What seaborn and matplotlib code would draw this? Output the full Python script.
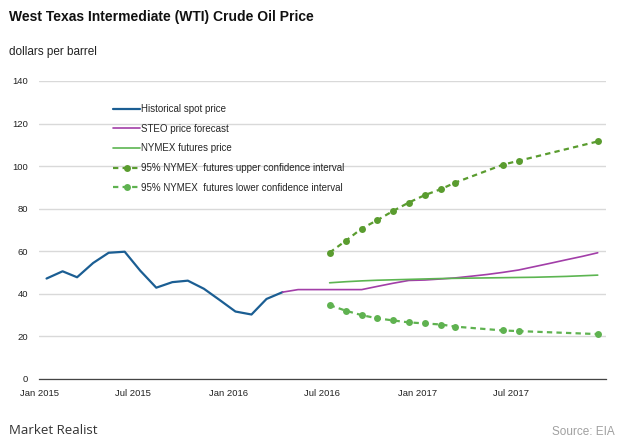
import numpy as np
import pandas as pd
import matplotlib
matplotlib.use("Agg")
import matplotlib.pyplot as plt
import matplotlib.dates as mdates
import seaborn as sns

# monthly data, plotted at mid-month
hist_dates = pd.date_range("2015-01-01", "2016-04-01", freq="MS") + pd.Timedelta(days=14)
hist_price = [47.2, 50.6, 47.8, 54.5, 59.3, 59.8, 50.9, 42.9, 45.5, 46.2, 42.4, 37.2,
              31.7, 30.3, 37.6, 40.8]

steo_dates = pd.date_range("2016-04-01", "2017-12-01", freq="MS") + pd.Timedelta(days=14)
steo_price = [40.8, 42.0, 42.0, 42.0, 42.0, 42.0, 43.5, 45.0, 46.3, 46.5, 47.0, 47.5,
              48.3, 49.1, 50.1, 51.2, 52.8, 54.4, 56.0, 57.6, 59.3]

fut_dates = pd.date_range("2016-07-01", "2017-12-01", freq="MS") + pd.Timedelta(days=14)
fut_price = [45.2, 45.7, 46.1, 46.4, 46.6, 46.8, 47.0, 47.2, 47.3, 47.4, 47.5, 47.6,
             47.7, 47.8, 48.0, 48.2, 48.5, 48.8]

ci_dates = pd.to_datetime(["2016-07-15", "2016-08-15", "2016-09-15", "2016-10-15",
                           "2016-11-15", "2016-12-15", "2017-01-15", "2017-02-15",
                           "2017-03-15", "2017-06-15", "2017-07-15", "2017-12-15"])
ci_upper = [59.4, 64.9, 70.7, 74.6, 79.0, 82.9, 86.4, 89.2, 92.3, 100.7, 102.5, 111.6]
ci_lower = [34.7, 32.1, 30.0, 28.5, 27.5, 26.6, 26.1, 25.6, 24.6, 22.8, 22.5, 21.1]

sns.set_style("white")
plt.rcParams["font.family"] = ["Liberation Sans", "DejaVu Sans"]

fig = plt.figure(figsize=(6.2, 4.43), dpi=100)
ax = fig.add_axes([39.3 / 620, 1 - 379 / 443, (606 - 39.3) / 620, (379 - 81) / 443])

dash = (0, (2.4, 1.9))
sns.lineplot(x=hist_dates, y=hist_price, ax=ax, color="#1b5e93", linewidth=1.6,
             label="Historical spot price")
sns.lineplot(x=steo_dates, y=steo_price, ax=ax, color="#a23ea8", linewidth=1.2,
             label="STEO price forecast")
sns.lineplot(x=fut_dates, y=fut_price, ax=ax, color="#5cb551", linewidth=1.2,
             label="NYMEX futures price")
sns.lineplot(x=ci_dates, y=ci_upper, ax=ax, color="#5a9c2f", linewidth=1.6,
             linestyle=dash, marker="o", markersize=5, markeredgewidth=0,
             label="95% NYMEX  futures upper confidence interval")
sns.lineplot(x=ci_dates, y=ci_lower, ax=ax, color="#5fb250", linewidth=1.6,
             linestyle=dash, marker="o", markersize=5, markeredgewidth=0,
             label="95% NYMEX  futures lower confidence interval")

ax.set_xlim(pd.Timestamp("2015-01-01"), pd.Timestamp("2017-12-31"))
ax.set_ylim(0, 140)
ax.set_yticks(range(0, 141, 20))
ax.set_xlabel("")
ax.set_ylabel("")

ax.xaxis.set_major_locator(mdates.MonthLocator(bymonth=[1, 7]))
ax.xaxis.set_minor_locator(mdates.MonthLocator())
ax.xaxis.set_major_formatter(mdates.DateFormatter("%b %Y"))

ax.yaxis.grid(True, color="#d9d9d9", linewidth=1)
ax.xaxis.grid(False)
for s in ["top", "right", "left"]:
    ax.spines[s].set_visible(False)
ax.spines["bottom"].set_color("#444444")
ax.spines["bottom"].set_linewidth(0.9)

ax.tick_params(axis="y", length=0, pad=8, labelsize=6.8, labelcolor="#222222")
ax.tick_params(axis="x", which="major", direction="inout", length=8, width=0.8,
               color="#444444", pad=3, labelsize=6.8, labelcolor="#222222")
ax.tick_params(axis="x", which="minor", direction="inout", length=4, width=0.7,
               color="#444444")

ax.legend(loc="upper left", bbox_to_anchor=(113 / 620, 1 - 104 / 443),
          bbox_transform=fig.transFigure, frameon=False, fontsize=7,
          handlelength=2.8, handletextpad=0.1, labelspacing=1.0,
          borderpad=0, borderaxespad=0, numpoints=1)

fig.text(9 / 620, 1 - 17 / 443, "West Texas Intermediate (WTI) Crude Oil Price",
         fontsize=10, fontweight="bold", color="#111111", va="center", ha="left")
fig.text(9 / 620, 1 - 52 / 443, "dollars per barrel", fontsize=8.5,
         color="#222222", va="center", ha="left")
fig.text(9 / 620, 1 - 430 / 443, "Market Realist", fontsize=9.5,
         color="#333333", va="center", ha="left", family=["Open Sans", "DejaVu Sans"])
fig.text(615 / 620, 1 - 432 / 443, "Source: EIA", fontsize=8.5,
         color="#a0a0a0", va="center", ha="right")

fig.savefig("out.png", dpi=100)
